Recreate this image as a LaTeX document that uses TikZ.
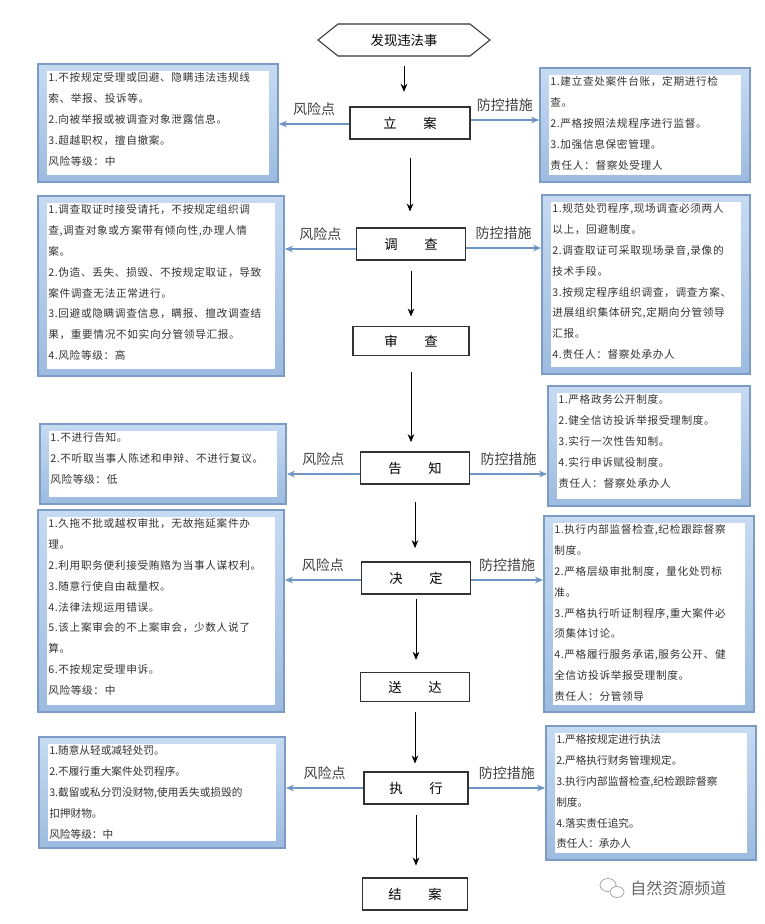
\documentclass[tikz,border=0pt]{standalone}
\usepackage{fontspec}
\setmainfont{Noto Sans CJK SC}
\newfontfamily\boxfont[LetterSpace=6]{Noto Sans CJK SC}
\newfontfamily\boxfontn{Noto Sans CJK SC}
\usetikzlibrary{fit,arrows.meta}
\definecolor{frameedge}{HTML}{7C9CC6}
\definecolor{frametop}{HTML}{C6DBF2}
\definecolor{framebot}{HTML}{9DBBE0}
\definecolor{arrowc}{HTML}{6F95C4}
\tikzset{
  frame/.style={draw=frameedge, line width=1.4pt, top color=frametop, bottom color=framebot, inner sep=0pt,
    path picture={\fill[white] ([shift={(7pt,-5pt)}]path picture bounding box.north west) rectangle ([shift={(-7pt,5pt)}]path picture bounding box.south east);}},
  btext/.style={anchor=north west, align=left, inner sep=0pt, font=\boxfont\fontsize{8}{15.7}\selectfont, text=black!80},
  btextn/.style={anchor=north west, align=left, inner sep=0pt, font=\boxfontn\fontsize{8}{15.7}\selectfont, text=black!80},
  stepbox/.style={draw=black!80, line width=0.8pt, minimum width=82pt, minimum height=24pt, inner sep=0pt, font=\fontsize{10}{12}\selectfont},
  flow/.style={-{Stealth[length=6pt,width=5pt]}, line width=0.6pt, black},
  side/.style={-{Stealth[length=6pt,width=5pt]}, line width=1.2pt, arrowc},
  lbl/.style={font=\fontsize{10.5}{12}\selectfont, text=black!75, inner sep=0pt}
}
\newcommand{\riskbox}[6]{%
  \node[frame, fit={(#2,#3) (#4,#5)}] (#1) {};
  \node[btext] at (#2+10,#3+8) {#6};}
\newcommand{\riskboxn}[6]{%
  \node[frame, fit={(#2,#3) (#4,#5)}] (#1) {};
  \node[btextn] at (#2+10,#3+8) {#6};}
\begin{document}
\begin{tikzpicture}[x=0.75pt,y=-0.75pt]
\useasboundingbox (0,0) rectangle (764,924);
% start
\node[font=\fontsize{10}{12}\selectfont, inner sep=0pt] (start) at (404,40) {发现违法事};
\draw[black!80, line width=0.8pt] (318,40) -- (338,24) -- (470,24) -- (490,40) -- (470,56) -- (338,56) -- cycle;
\coordinate (s0) at (404,66);
% steps
\node[stepbox, minimum width=90pt] (la) at (410,123) {立\hspace{2em}案};
\node[stepbox] (dc) at (411,244) {调\hspace{2em}查};
\node[stepbox, minimum width=87pt, minimum height=22pt] (sc) at (411,341) {审\hspace{2em}查};
\node[stepbox] (gz) at (415,468) {告\hspace{2em}知};
\node[stepbox] (jd) at (416,578) {决\hspace{2em}定};
\node[stepbox, minimum height=22pt] (sd) at (415,687) {送\hspace{2em}达};
\node[stepbox, minimum width=78pt] (zx) at (416,788) {执\hspace{2em}行};
\node[stepbox, minimum width=79pt] (ja) at (415,894) {结\hspace{2em}案};
% flow arrows
\draw[flow] (s0) -- ([yshift=11pt]s0 |- la.north);
\draw[flow] ([yshift=-14pt]la.south) -- ([yshift=12pt]la.south |- dc.north);
\draw[flow] ([yshift=-8pt]dc.south) -- ([yshift=7pt]dc.south |- sc.north);
\draw[flow] ([yshift=-12pt]sc.south) -- ([yshift=7pt]sc.south |- gz.north);
\draw[flow] ([yshift=-13pt]gz.south) -- ([yshift=10pt]gz.south |- jd.north);
\draw[flow] ([yshift=-3pt]jd.south) -- ([yshift=9pt]jd.south |- sd.north);
\draw[flow] ([yshift=-7pt]sd.south) -- ([yshift=6pt]sd.south |- zx.north);
\draw[flow] ([yshift=-8pt]zx.south) -- ([yshift=9pt]zx.south |- ja.north);
% boxes
\riskbox{L1}{38}{64}{278}{182}{1.不按规定受理或回避、隐瞒违法违规线\\索、举报、投诉等。\\2.向被举报或被调查对象泄露信息。\\3.超越职权，擅自撤案。\\风险等级：中}
\riskbox{R1}{540}{68}{750}{182}{1.建立查处案件台账，定期进行检\\查。\\2.严格按照法规程序进行监督。\\3.加强信息保密管理。\\责任人：督察处受理人}
\riskbox{L2}{38}{196}{284}{376}{1.调查取证时接受请托，不按规定组织调\\查,调查对象或方案带有倾向性,办理人情\\案。\\2.伪造、丢失、损毁、不按规定取证，导致\\案件调查无法正常进行。\\3.回避或隐瞒调查信息，瞒报、擅改调查结\\果，重要情况不如实向分管领导汇报。\\4.风险等级：高}
\riskbox{R2}{542}{195}{750}{374}{1.规范处罚程序,现场调查必须两人\\以上，回避制度。\\2.调查取证可采取现场录音,录像的\\技术手段。\\3.按规定程序组织调查，调查方案、\\进展组织集体研究,定期向分管领导\\汇报。\\4.责任人：督察处承办人}
\riskbox{L3}{40}{424}{286}{504}{1.不进行告知。\\2.不听取当事人陈述和申辩、不进行复议。\\风险等级：低}
\riskbox{R3}{548}{386}{750}{506}{1.严格政务公开制度。\\2.健全信访投诉举报受理制度。\\3.实行一次性告知制。\\4.实行申诉赋役制度。\\责任人：督察处承办人}
\riskbox{L4}{38}{510}{284}{712}{1.久拖不批或越权审批，无故拖延案件办\\理。\\2.利用职务便利接受贿赂为当事人谋权利。\\3.随意行使自由裁量权。\\4.法律法规运用错误。\\5.该上案审会的不上案审会，少数人说了\\算。\\6.不按规定受理申诉。\\风险等级：中}
\riskbox{R4}{544}{516}{754}{712}{1.执行内部监督检查,纪检跟踪督察\\制度。\\2.严格层级审批制度，量化处罚标\\准。\\3.严格执行听证制程序,重大案件必\\须集体讨论。\\4.严格履行服务承诺,服务公开、健\\全信访投诉举报受理制度。\\责任人：分管领导}
\riskboxn{L5}{39}{737}{285}{848}{1.随意从轻或减轻处罚。\\2.不履行重大案件处罚程序。\\3.截留或私分罚没财物,使用丢失或损毁的\\扣押财物。\\风险等级：中}
\riskboxn{R5}{546}{726}{756}{860}{1.严格按规定进行执法\\2.严格执行财务管理规定。\\3.执行内部监督检查,纪检跟踪督察\\制度。\\4.落实责任追究。\\责任人：承办人}
% side arrows
\draw[side] (la.west |- 0,124) -- (L1.east |- 0,124) node[lbl, midway, above=6pt] {风险点};
\draw[side] (la.east |- 0,120) -- (R1.west |- 0,120) node[lbl, midway, above=6pt] {防控措施};
\draw[side] (dc.west |- 0,249) -- (L2.east |- 0,249) node[lbl, midway, above=6pt] {风险点};
\draw[side] (dc.east |- 0,248) -- (R2.west |- 0,248) node[lbl, midway, above=6pt] {防控措施};
\draw[side] (gz.west |- 0,474) -- (L3.east |- 0,474) node[lbl, midway, above=6pt] {风险点};
\draw[side] (gz.east |- 0,474) -- (R3.west |- 0,474) node[lbl, midway, above=6pt] {防控措施};
\draw[side] (jd.west |- 0,580) -- (L4.east |- 0,580) node[lbl, midway, above=6pt] {风险点};
\draw[side] (jd.east |- 0,580) -- (R4.west |- 0,580) node[lbl, midway, above=6pt] {防控措施};
\draw[side] (zx.west |- 0,788) -- (L5.east |- 0,788) node[lbl, midway, above=6pt] {风险点};
\draw[side] (zx.east |- 0,788) -- (R5.west |- 0,788) node[lbl, midway, above=6pt] {防控措施};
% watermark
\draw[black!35, line width=0.6pt] (608,885) ellipse (8 and 6.5);
\draw[black!35, line width=0.6pt, fill=white] (617,892) ellipse (7 and 5.5);
\node[font=\fontsize{12}{14}\selectfont, text=black!60, anchor=west, inner sep=0pt] (wm) at (630,888) {自然资源频道};
\end{tikzpicture}
\end{document}
